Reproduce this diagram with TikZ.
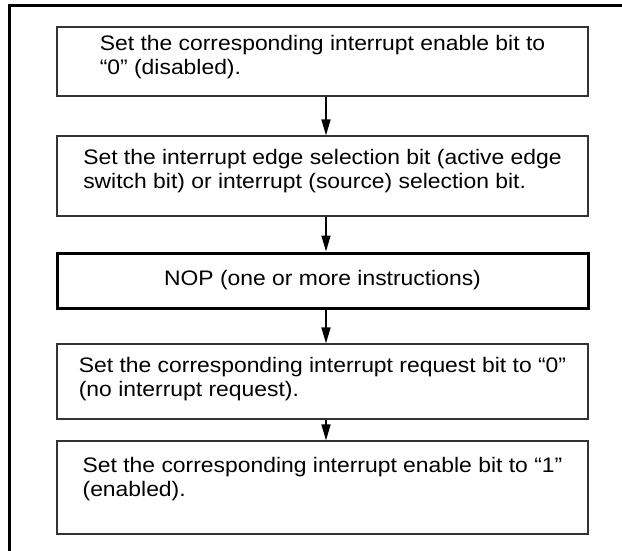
\documentclass[tikz,border=0pt]{standalone}
\usepackage{fontspec}
\setmainfont{Liberation Sans}[FakeStretch=1.09]
\usetikzlibrary{arrows.meta}
\begin{document}
\begin{tikzpicture}[x=1pt,y=-1pt,
  box/.style={draw=black!80, line width=1.2pt, minimum width=531pt, inner sep=0pt},
  thickbox/.style={draw=black, line width=3pt, minimum width=531pt, inner sep=0pt,
     font=\fontsize{21pt}{24pt}\selectfont},
  txt/.style={anchor=north, align=left, inner sep=0pt, font=\fontsize{21pt}{24pt}\selectfont},
  flow/.style={line width=1.6pt, -{Triangle[length=16pt,width=9pt]}}]
\useasboundingbox (0,0) rectangle (622,551);
\fill[white] (0,0) rectangle (622,551);
\draw[line width=3pt] (9,551) -- (9,6) -- (622,6);
% boxes
\node[box, minimum height=69pt] (b1) at (322.5,61.5) {};
\node[box, minimum height=80pt] (b2) at (322.5,176) {};
\node[thickbox, minimum height=55pt] (b3) at (322.5,280.5) {NOP (one or more instructions)};
\node[box, minimum height=75pt] (b4) at (322.5,381.5) {};
\node[box, minimum height=93pt] (b5) at (322.5,487.5) {};
% texts
\node[txt] (t1) at ([yshift=-8.5pt]b1.north) {Set the corresponding interrupt enable bit to\\``0'' (disabled).};
\node[txt] (t2) at ([yshift=-14pt]b2.north) {Set the interrupt edge selection bit (active edge\\switch bit) or interrupt (source) selection bit.};
\node[txt] (t4) at ([yshift=-14pt]b4.north) {Set the corresponding interrupt request bit to ``0''\\(no interrupt request).};
\node[txt] (t5) at ([yshift=-17pt]b5.north) {Set the corresponding interrupt enable bit to ``1''\\(enabled).};
% arrows
\draw[flow] ([xshift=3.5pt]b1.south) -- ([xshift=3.5pt]b2.north);
\draw[flow] ([xshift=3.5pt]b2.south) -- ([xshift=3.5pt]b3.north);
\draw[flow] ([xshift=3.5pt]b3.south) -- ([xshift=3.5pt]b4.north);
\draw[flow] ([xshift=3.5pt]b4.south) -- ([xshift=3.5pt]b5.north);
\end{tikzpicture}
\end{document}
